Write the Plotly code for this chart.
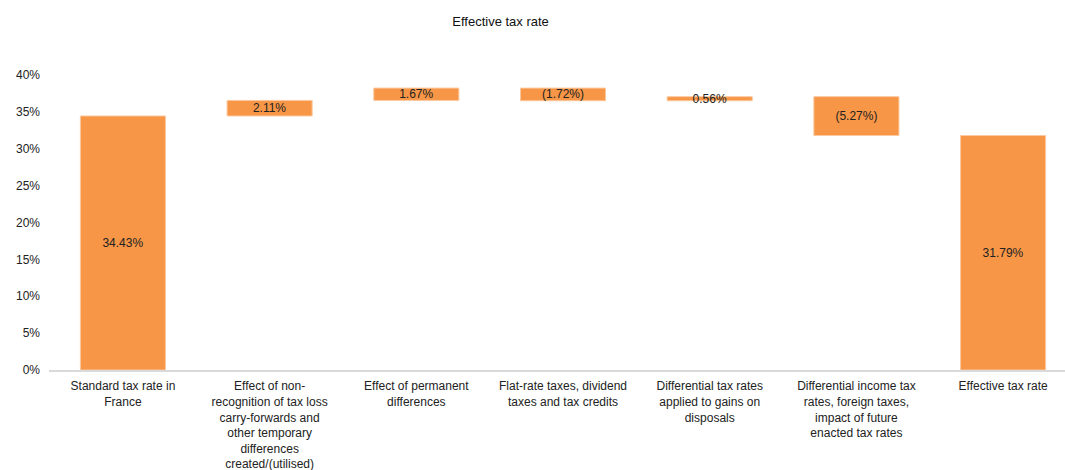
import plotly.graph_objects as go

categories = [
    "Standard tax rate in<br>France",
    "Effect of non-<br>recognition of tax loss<br>carry-forwards and<br>other temporary<br>differences<br>created/(utilised)",
    "Effect of permanent<br>differences",
    "Flat-rate taxes, dividend<br>taxes and tax credits",
    "Differential tax rates<br>applied to gains on<br>disposals",
    "Differential income tax<br>rates, foreign taxes,<br>impact of future<br>enacted tax rates",
    "Effective tax rate",
]
values = [34.43, 2.11, 1.67, -1.72, 0.56, -5.27, 31.79]
measures = ["absolute", "relative", "relative", "relative", "relative", "relative", "total"]
labels = ["34.43%", "2.11%", "1.67%", "(1.72%)", "0.56%", "(5.27%)", "31.79%"]
y_ticks = [0, 5, 10, 15, 20, 25, 30, 35, 40]

ORANGE = "#F79646"
FONT = "Liberation Sans, Arial, sans-serif"

fig = go.Figure(go.Waterfall(
    x=list(range(len(categories))),
    y=values,
    measure=measures,
    text=labels,
    textposition="inside",
    insidetextanchor="middle",
    textangle=0,
    constraintext="none",
    textfont=dict(family=FONT, size=12, color="#222222"),
    increasing=dict(marker=dict(color=ORANGE, line=dict(color="#FBC9A0", width=1))),
    decreasing=dict(marker=dict(color=ORANGE, line=dict(color="#FBC9A0", width=1))),
    totals=dict(marker=dict(color=ORANGE, line=dict(color="#FBC9A0", width=1))),
    connector=dict(visible=False),
    width=0.58,
    hoverinfo="skip",
))

fig.update_layout(
    width=1065, height=470,
    margin=dict(l=49, r=0, t=38, b=100),
    paper_bgcolor="white", plot_bgcolor="white",
    showlegend=False,
    title=dict(text="Effective tax rate", x=0.47, xanchor="center", y=0.955, yanchor="middle",
               font=dict(family=FONT, size=13, color="#111111")),
    font=dict(family=FONT, size=12, color="#222222"),
)
fig.update_xaxes(
    range=[-0.504, 6.422],
    tickvals=list(range(len(categories))),
    ticktext=categories,
    tickangle=0,
    showgrid=False, zeroline=False,
    showline=True, linecolor="#D9D9D9", linewidth=2,
    ticks="", ticklabelstandoff=4,
    tickfont=dict(family=FONT, size=12, color="#222222"),
)
fig.update_yaxes(
    range=[0, 45],
    tickvals=y_ticks,
    ticktext=[f"{v}%" for v in y_ticks],
    showgrid=False, zeroline=False, showline=False,
    ticks="", ticklabelstandoff=8,
    tickfont=dict(family=FONT, size=12, color="#222222"),
)

fig.write_html("out.html")
